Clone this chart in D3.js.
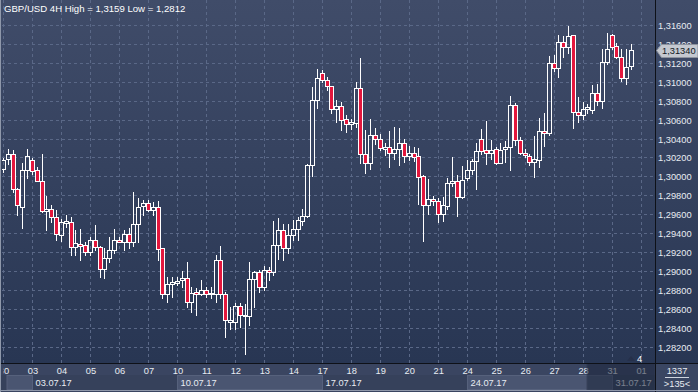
<!DOCTYPE html>
<html><head><meta charset="utf-8">
<script src="https://cdn.jsdelivr.net/npm/d3@7"></script>
<style>html,body{margin:0;padding:0;background:#2c3a58;}svg{display:block;}</style>
</head><body>
<script>
// ---- data (GBP/USD 4H) ----
const open = [
1.3008,1.3018,1.3024,1.2987,1.2968,1.3007,1.3017,1.3007,1.2995,1.2963,
1.2966,1.2957,1.2938,1.2951,1.2952,1.2925,1.2929,1.2927,1.2920,1.2933,
1.2925,1.2902,1.2914,1.2922,1.2933,1.2931,1.2939,1.2931,1.2950,1.2969,
1.2972,1.2964,1.2968,1.2924,1.2876,1.2886,1.2887,1.2890,1.2893,1.2867,
1.2878,1.2876,1.2880,1.2876,1.2876,1.2912,1.2876,1.2846,1.2846,1.2863,
1.2854,1.2852,1.2892,1.2899,1.2883,1.2901,1.2899,1.2928,1.2943,1.2924,
1.2938,1.2944,1.2953,1.2958,1.3012,1.3081,1.3109,1.3102,1.3096,1.3071,
1.3074,1.3061,1.3055,1.3056,1.3093,1.3024,1.3014,1.3044,1.3040,1.3029,
1.3031,1.3025,1.3029,1.3035,1.3022,1.3025,1.3022,1.3000,1.2970,1.2976,
1.2974,1.2960,1.2969,1.2993,1.2995,1.2978,1.2998,1.3007,1.3016,1.3039,
1.3028,1.3025,1.3029,1.3014,1.3029,1.3031,1.3075,1.3038,1.3025,1.3022,
1.3015,1.3017,1.3048,1.3046,1.3120,1.3115,1.3142,1.3137,1.3149,1.3068,
1.3065,1.3071,1.3070,1.3088,1.3080,1.3121,1.3149,1.3138,1.3126,1.3104,
1.3117];
const high = [
1.3019,1.3029,1.3028,1.2988,1.3014,1.3029,1.3019,1.3010,1.3024,1.2979,
1.2970,1.2964,1.2955,1.2959,1.2957,1.2943,1.2944,1.2931,1.2936,1.2949,
1.2926,1.2924,1.2936,1.2944,1.2936,1.2943,1.2945,1.2984,1.2977,1.2975,
1.2975,1.2973,1.2974,1.2924,1.2894,1.2894,1.2894,1.2900,1.2909,1.2883,
1.2882,1.2890,1.2883,1.2883,1.2917,1.2926,1.2878,1.2862,1.2866,1.2866,
1.2865,1.2909,1.2900,1.2901,1.2905,1.2904,1.2953,1.2956,1.2950,1.2950,
1.2954,1.2957,1.2966,1.3013,1.3095,1.3114,1.3112,1.3105,1.3096,1.3081,
1.3079,1.3065,1.3061,1.3100,1.3125,1.3049,1.3061,1.3051,1.3045,1.3035,
1.3048,1.3052,1.3051,1.3039,1.3032,1.3031,1.3030,1.3001,1.2997,1.2979,
1.2977,1.2978,1.2998,1.3021,1.3001,1.3011,1.3017,1.3018,1.3035,1.3050,
1.3059,1.3038,1.3031,1.3035,1.3037,1.3085,1.3078,1.3042,1.3029,1.3024,
1.3043,1.3062,1.3067,1.3127,1.3128,1.3149,1.3148,1.3159,1.3149,1.3084,
1.3079,1.3077,1.3097,1.3098,1.3135,1.3152,1.3151,1.3141,1.3135,1.3135,
1.3140];
const low = [
1.3005,1.3013,1.2983,1.2959,1.2945,1.2998,1.3003,1.2995,1.2962,1.2943,
1.2952,1.2933,1.2932,1.2947,1.2917,1.2917,1.2912,1.2917,1.2917,1.2922,
1.2894,1.2893,1.2909,1.2919,1.2931,1.2922,1.2924,1.2926,1.2931,1.2959,
1.2963,1.2959,1.2912,1.2871,1.2867,1.2872,1.2885,1.2883,1.2862,1.2857,
1.2853,1.2875,1.2873,1.2871,1.2867,1.2871,1.2830,1.2839,1.2839,1.2841,
1.2812,1.2843,1.2862,1.2878,1.2880,1.2891,1.2896,1.2913,1.2912,1.2919,
1.2933,1.2933,1.2949,1.2957,1.3000,1.3072,1.3100,1.3091,1.3067,1.3057,
1.3049,1.3047,1.3050,1.3052,1.3014,1.3004,1.3008,1.3034,1.3028,1.3023,
1.3010,1.3018,1.3012,1.3015,1.3017,1.3016,1.2971,1.2932,1.2960,1.2970,
1.2952,1.2953,1.2966,1.2990,1.2958,1.2977,1.2996,1.3003,1.2987,1.3024,
1.3013,1.3018,1.3013,1.3014,1.3015,1.3007,1.3033,1.3024,1.3021,1.3012,
1.2999,1.3010,1.3032,1.3044,1.3111,1.3105,1.3126,1.3130,1.3051,1.3058,
1.3061,1.3067,1.3067,1.3075,1.3072,1.3119,1.3135,1.3125,1.3101,1.3098,
1.3114];
const close = [
1.3017,1.3024,1.2987,1.2970,1.3007,1.3022,1.3006,1.2995,1.2963,1.2966,
1.2957,1.2939,1.2952,1.2953,1.2925,1.2930,1.2926,1.2920,1.2933,1.2925,
1.2902,1.2914,1.2922,1.2933,1.2931,1.2939,1.2931,1.2950,1.2968,1.2972,
1.2964,1.2968,1.2923,1.2876,1.2886,1.2888,1.2889,1.2893,1.2867,1.2877,
1.2876,1.2880,1.2876,1.2877,1.2912,1.2876,1.2848,1.2848,1.2863,1.2854,
1.2852,1.2892,1.2899,1.2883,1.2901,1.2899,1.2928,1.2943,1.2924,1.2938,
1.2944,1.2954,1.2958,1.3012,1.3081,1.3104,1.3102,1.3096,1.3071,1.3074,
1.3060,1.3055,1.3057,1.3093,1.3024,1.3014,1.3044,1.3039,1.3030,1.3031,
1.3025,1.3029,1.3035,1.3022,1.3025,1.3021,1.2999,1.2970,1.2976,1.2974,
1.2960,1.2970,1.2993,1.2995,1.2978,1.2996,1.3007,1.3016,1.3027,1.3027,
1.3025,1.3028,1.3014,1.3028,1.3031,1.3075,1.3038,1.3025,1.3023,1.3015,
1.3018,1.3048,1.3046,1.3120,1.3115,1.3142,1.3137,1.3148,1.3068,1.3065,
1.3071,1.3073,1.3088,1.3080,1.3121,1.3135,1.3137,1.3126,1.3104,1.3116,
1.3134];
const dayStarts = [0,6,12,18,24,30,36,42,48,54,60,66,72,78,84,90,96,102,108,114,120,126,132];
const dayLabels = ["30","03","04","05","06","07","10","11","12","13","14","17","18","19","20","21","24","25","26","27","28","31","01"];
const weekStarts = [6,36,66,96,126];
const weekLabels = ["03.07.17","10.07.17","17.07.17","24.07.17","31.07.17"];
const yTicks = [1.282,1.284,1.286,1.288,1.290,1.292,1.294,1.296,1.298,1.300,1.302,1.304,1.306,1.308,1.310,1.312,1.314,1.316];
const titleText = "GBP/USD 4H  High = 1,3159 Low  = 1,2812";
const lastPrice = 1.3134;
const barInfo = ["1337", ">135<"];
const shiftMark = "4";

// ---- layout ----
const W = 698, H = 392;
const plotL = 2, plotR = 655, plotB = 363;
const FONT = "'Liberation Sans', Arial, sans-serif";

const x = d3.scaleLinear().domain([0, 131]).range([3.5, 3.5 + 131 * 4.83]);
const y = d3.scaleLinear().domain([1.282, 1.316]).range([346.7, 25]);
const fmt = v => d3.format(".5f")(v).replace(".", ",");

const svg = d3.select("body").append("svg").attr("width", W).attr("height", H)
  .style("font-family", FONT);

const defs = svg.append("defs");
const grad = defs.append("linearGradient").attr("id", "bg").attr("x1", 0).attr("y1", 0).attr("x2", 0).attr("y2", 1);
grad.append("stop").attr("offset", "0%").attr("stop-color", "#404c69");
grad.append("stop").attr("offset", "100%").attr("stop-color", "#283653");
defs.append("clipPath").attr("id", "plotclip").append("rect")
  .attr("x", plotL).attr("y", 0).attr("width", plotR - plotL).attr("height", plotB);

svg.append("rect").attr("width", W).attr("height", plotB).attr("fill", "url(#bg)");

// bottom axis background
svg.append("rect").attr("x", 0).attr("y", plotB).attr("width", W).attr("height", H - plotB).attr("fill", "#3a4561");
svg.append("rect").attr("x", 0).attr("y", 375).attr("width", plotR).attr("height", 15).attr("fill", "#36415b");

const px = i => Math.floor(x(i)) + 0.5;

// grid
const grid = svg.append("g").attr("clip-path", "url(#plotclip)")
  .attr("stroke", "#5a6887").attr("stroke-dasharray", "3,3").attr("stroke-width", 1);
grid.selectAll("line.h").data(yTicks).join("line").attr("class", "h")
  .attr("x1", plotL).attr("x2", plotR)
  .attr("y1", d => Math.round(y(d)) + 0.5).attr("y2", d => Math.round(y(d)) + 0.5);
grid.selectAll("line.v").data(dayStarts).join("line").attr("class", "v")
  .attr("x1", d => px(d)).attr("x2", d => px(d)).attr("y1", 0).attr("y2", plotB);

// title
svg.append("text").attr("x", 4).attr("y", 12).attr("fill", "#ffffff")
  .attr("font-size", "9.6px").text(titleText);

// candles
const data = open.map((o, i) => ({ i, o, h: high[i], l: low[i], c: close[i] }));
const cg = svg.append("g").attr("clip-path", "url(#plotclip)");
const candle = cg.selectAll("g.c").data(data).join("g").attr("class", "c");
candle.each(function (d) {
  const g = d3.select(this);
  const cx = px(d.i);
  let top = Math.round(y(Math.max(d.o, d.c)));
  let bot = Math.round(y(Math.min(d.o, d.c)));
  if (bot - top < 1) bot = top + 1;
  const yh = Math.round(y(d.h)), yl = Math.round(y(d.l));
  if (yh < top) g.append("line").attr("x1", cx).attr("x2", cx).attr("y1", yh).attr("y2", top + 0.5).attr("stroke", "#ffffff");
  if (yl > bot) g.append("line").attr("x1", cx).attr("x2", cx).attr("y1", bot + 0.5).attr("y2", yl + 1).attr("stroke", "#ffffff");
  g.append("rect").attr("x", cx - 2).attr("y", top + 0.5).attr("width", 4).attr("height", bot - top)
    .attr("fill", d.c < d.o ? "#e3173d" : "none").attr("stroke", "#ffffff").attr("stroke-width", 1);
});

// x axis (day labels)
const xAxis = d3.axisBottom(x).tickValues(dayStarts).tickSize(0).tickPadding(0)
  .tickFormat((d, k) => dayLabels[k]);
const xg = svg.append("g").attr("transform", `translate(0,${plotB + 2})`).call(xAxis);
xg.select(".domain").remove();
xg.selectAll("text").attr("fill", "#e8ecf2").attr("font-size", "9.3px").attr("font-family", FONT)
  .attr("dy", "0.95em");
// clip leftmost label to plot edge
svg.append("rect").attr("x", 0).attr("y", plotB).attr("width", 3.5).attr("height", 12).attr("fill", "#3a4561");

// week bands
const bandEdges = [7].concat(weekStarts.map(px)).concat([plotR]);
for (let k = 0; k < bandEdges.length - 1; k++) {
  if (k % 2 === 0) {
    svg.append("rect").attr("x", bandEdges[k]).attr("y", 375.5)
      .attr("width", bandEdges[k + 1] - bandEdges[k]).attr("height", 14)
      .attr("fill", "#4a5571").attr("stroke", "#56617c");
  }
}
svg.selectAll("text.wk").data(weekStarts).join("text").attr("class", "wk")
  .attr("x", d => px(d) + 3).attr("y", 386).attr("fill", "#e8ecf2").attr("font-size", "9.3px")
  .text((d, k) => weekLabels[k]);

// dark overlay at right of time axis
svg.append("rect").attr("x", 587).attr("y", plotB + 0.5).attr("width", plotR - 587).attr("height", 27)
  .attr("fill", "#1c263b").attr("opacity", 0.55).attr("stroke", "#2a3349");

// shift marker
svg.append("path").attr("d", "M627,361 L631,356 L635,361 Z").attr("fill", "#26304a");
svg.append("text").attr("x", 637).attr("y", 362).attr("fill", "#ffffff").attr("font-size", "9.3px").text(shiftMark);

// separators
svg.append("line").attr("x1", 0).attr("x2", W).attr("y1", plotB + 0.5).attr("y2", plotB + 0.5).attr("stroke", "#0e1118");
svg.append("line").attr("x1", plotR + 0.5).attr("x2", plotR + 0.5).attr("y1", 0).attr("y2", H).attr("stroke", "#0e1118");

// right bottom box
svg.append("rect").attr("x", plotR + 1).attr("y", plotB + 1).attr("width", W - plotR - 1).attr("height", H - plotB - 1).attr("fill", "#3a4662");
svg.append("text").attr("x", 677).attr("y", 374).attr("text-anchor", "middle").attr("fill", "#e8ecf2").attr("font-size", "9.3px").text(barInfo[0]);
svg.append("line").attr("x1", 665).attr("x2", 689).attr("y1", 377.5).attr("y2", 377.5).attr("stroke", "#cfd5df");
svg.append("text").attr("x", 677).attr("y", 387).attr("text-anchor", "middle").attr("fill", "#e8ecf2").attr("font-size", "9.3px").text(barInfo[1]);

// y axis (right)
const yAxis = d3.axisRight(y).tickValues(yTicks).tickSize(0).tickPadding(3).tickFormat(fmt);
const yg = svg.append("g").attr("transform", `translate(${plotR},0.5)`).call(yAxis);
yg.select(".domain").remove();
yg.selectAll("text").attr("fill", "#e8ecf2").attr("font-size", "9.3px").attr("font-family", FONT);

// current price label (covers part of the 1,31400 label, as in the original)
const yp = Math.round(y(lastPrice)) + 0.5;
svg.append("path")
  .attr("d", `M656.5,${yp} L661.5,${yp - 6} L698,${yp - 6} L698,${yp + 7} L661.5,${yp + 7} Z`)
  .attr("fill", "#c4c8d0").attr("stroke", "#8d939e");
svg.append("text").attr("x", 662).attr("y", yp + 3.5).attr("fill", "#111722").attr("font-size", "9.3px").text(fmt(lastPrice));

// outer frame
svg.append("line").attr("x1", 0.5).attr("x2", 0.5).attr("y1", 0).attr("y2", H).attr("stroke", "#8f98aa");
svg.append("line").attr("x1", 0).attr("x2", W).attr("y1", H - 1.5).attr("y2", H - 1.5).attr("stroke", "#8f98aa");
</script>
</body></html>
